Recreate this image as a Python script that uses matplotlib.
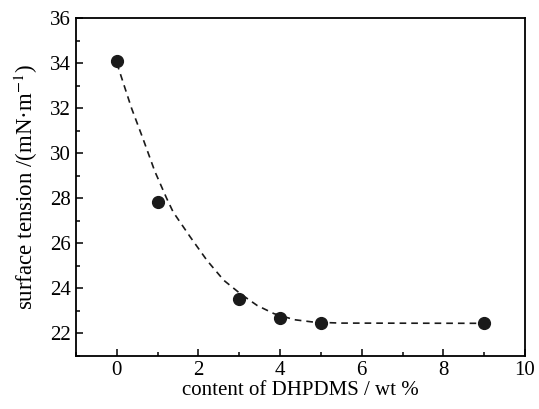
import matplotlib
matplotlib.use('Agg')
import matplotlib.pyplot as plt
from matplotlib.ticker import MultipleLocator

# measured points
content = [0, 1, 3, 4, 5, 9]
tension = [34.07, 27.85, 23.55, 22.67, 22.45, 22.45]

# dashed guide curve
curve_x = [0, 0.36, 0.64, 0.93, 1.22, 1.38, 1.8, 2.21, 2.62, 3.03, 3.44, 3.85, 4.35, 4.84, 5.5, 9]
curve_y = [34.0, 32.0, 30.65, 29.2, 28.0, 27.39, 26.28, 25.24, 24.36, 23.76, 23.24, 22.88, 22.61, 22.5, 22.46, 22.45]

plt.rcParams['font.family'] = ['Liberation Serif', 'DejaVu Serif']
plt.rcParams['mathtext.fontset'] = 'stix'

fig = plt.figure(figsize=(5.39, 4.09), dpi=100)
ax = fig.add_axes([0.141, 0.1296, 0.833, 0.8264])

ax.plot(curve_x, curve_y, linestyle=(0, (4, 3)), color='#1a1a1a', linewidth=1.2)
ax.plot(content, tension, 'o', color='#1a1a1a', markersize=8.5)

ax.set_xlim(-1, 10)
ax.set_ylim(21, 36)
ax.xaxis.set_major_locator(MultipleLocator(2))
ax.xaxis.set_minor_locator(MultipleLocator(1))
ax.yaxis.set_major_locator(MultipleLocator(2))
ax.yaxis.set_minor_locator(MultipleLocator(1))
ax.tick_params(which='both', direction='in', labelsize=15, width=1.1)
ax.tick_params(which='major', length=5)
ax.tick_params(which='minor', length=3)
for s in ax.spines.values():
    s.set_linewidth(1.3)

ax.set_xlabel('content of DHPDMS / wt %', fontsize=15, labelpad=1)
ax.set_ylabel('surface tension /(mN·m$^{-1}$)', fontsize=16.5, labelpad=7)

plt.savefig('out.png', dpi=100)
